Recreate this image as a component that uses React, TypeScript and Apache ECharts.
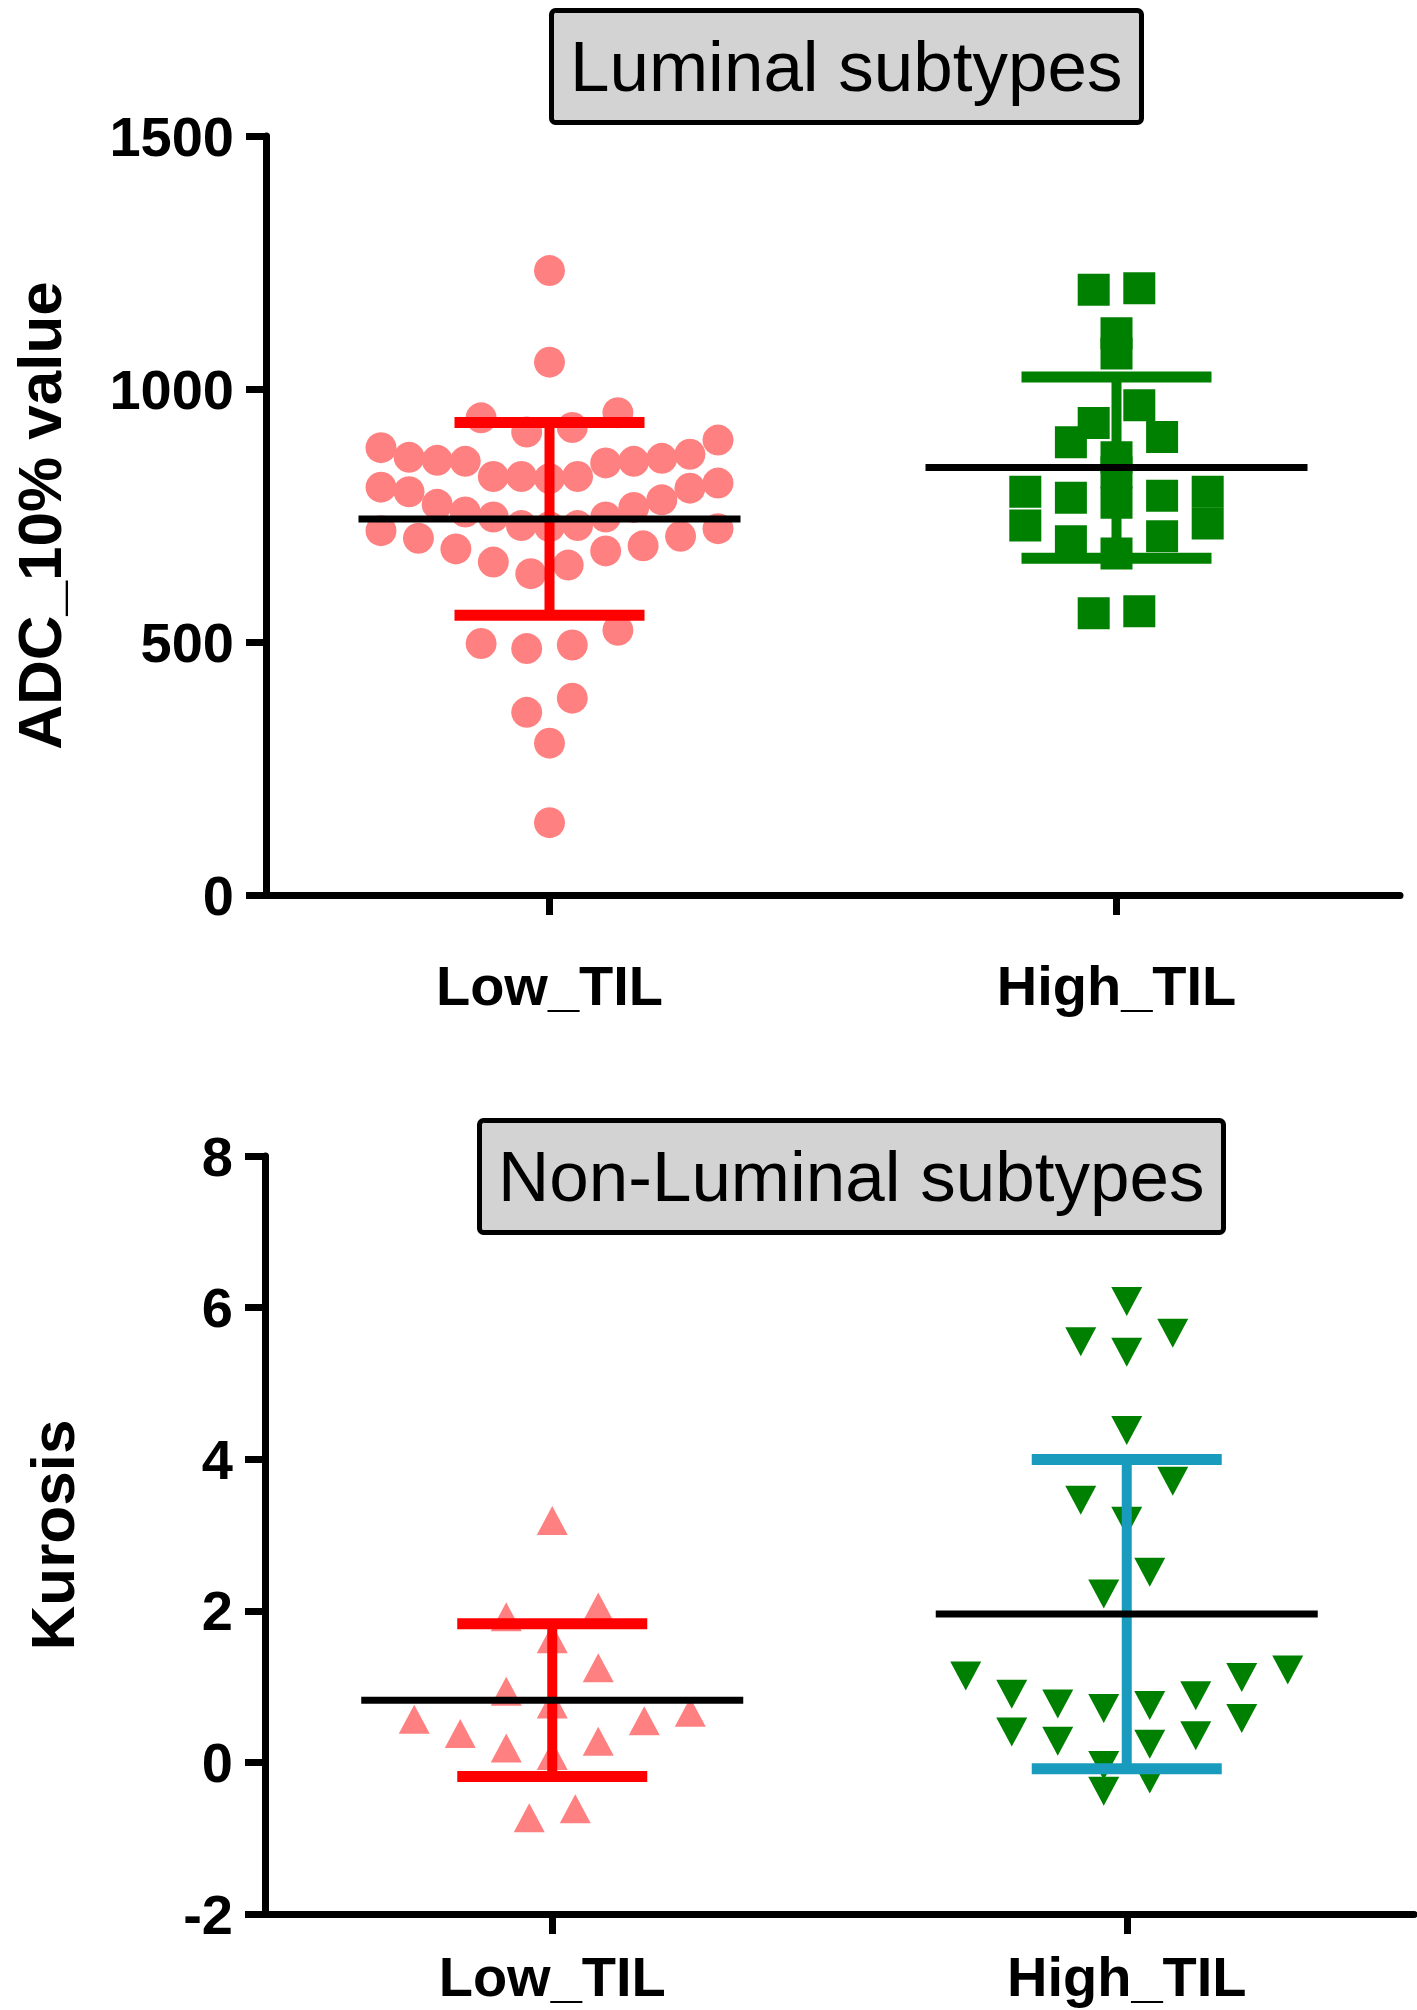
import React, { useEffect, useRef } from "react";
import * as echarts from "echarts";

// ---------- data ----------
const categories = ["Low_TIL", "High_TIL"];

// Luminal subtypes : ADC_10% value
const luminalLow = [
  1234, 1053,
  943, 915, 924, 953,
  884, 865, 857, 857, 827, 827, 823, 827, 854, 859, 863, 871, 899,
  814, 804, 781, 766, 747, 730, 728, 730, 747, 757, 772, 797, 806,
  724, 709, 690, 680, 652, 635, 658, 684, 705, 720,
  497, 487, 494, 523,
  361, 389, 300, 143,
];
const luminalHigh = [
  1196, 1199, 1110, 1070, 968, 933, 895, 905, 865, 835,
  797, 789, 775, 785, 797, 730, 699, 675, 709, 734, 557, 561,
];

// Non-Luminal subtypes : Kurosis
const nonLuminalLow = [
  3.19, 1.92, 2.05, 1.63, 1.25, 0.94, 0.77, 0.57, 0.38, 0.55, 0.66,
  0.19, 0.28, 0.09, -0.73, -0.61,
];
const nonLuminalHigh = [
  6.08, 5.66, 5.41, 5.55, 4.38, 3.71, 3.46, 3.18, 2.51, 2.22,
  1.22, 1.12, 1.14, 0.77, 0.71, 0.88, 0.9, 0.75,
  0.4, 0.58, 0.28, 0.24, 0.35, -0.04, -0.38, -0.22,
];

const luminalTicks = { min: 0, max: 1500, interval: 500 };
const nonLuminalTicks = { min: -2, max: 8, interval: 2 };

// ---------- helpers ----------
const FONT = "'Liberation Sans', Arial, Helvetica, sans-serif";
const PINK = "#FF8080";
const RED = "#FF0000";
const GREEN = "#008000";
const TEAL = "#199BBE";

function mean(a: number[]) {
  return a.reduce((s, v) => s + v, 0) / a.length;
}
function sd(a: number[]) {
  const m = mean(a);
  return Math.sqrt(a.reduce((s, v) => s + (v - m) * (v - m), 0) / (a.length - 1));
}

// Row-binned "scatter dot plot" layout (like GraphPad): points in a value bin
// spread symmetrically, lowest value in the middle.
function swarm(
  values: number[],
  binSize: number,
  binBase: number,
  stepPx: number,
  maxWidthPx: number,
  pxPerUnit: number
): number[] {
  const offsets = new Array(values.length).fill(0);
  const bins = new Map<number, number[]>();
  values.forEach((v, i) => {
    const k = Math.floor((v - binBase) / binSize);
    if (!bins.has(k)) bins.set(k, []);
    bins.get(k)!.push(i);
  });
  bins.forEach((idx) => {
    idx.sort((a, b) => values[a] - values[b]);
    const n = idx.length;
    const step = n > 1 ? Math.min(stepPx, maxWidthPx / (n - 1)) : 0;
    const slots: number[] = [];
    if (n % 2 === 1) {
      slots.push(0);
      for (let k = 1; slots.length < n; k++) {
        slots.push(-k);
        if (slots.length < n) slots.push(k);
      }
    } else {
      for (let k = 0.5; slots.length < n; k++) {
        slots.push(-k);
        if (slots.length < n) slots.push(k);
      }
    }
    idx.forEach((ii, j) => {
      offsets[ii] = (slots[j] * step) / pxPerUnit;
    });
  });
  return offsets;
}

function points(values: number[], center: number, offs: number[]) {
  return values.map((v, i) => [center + offs[i], v]);
}

const TOP_W = 1144;
const BOT_W = 1149;

export default function App() {
  const ref = useRef<HTMLDivElement>(null);

  useEffect(() => {
    document.body.style.margin = "0";
    if (!ref.current) return;
    const chart = echarts.init(ref.current, undefined, { renderer: "svg" });

    const pxTop = TOP_W / 4;
    const pxBot = BOT_W / 4;
    const lumLowPts = points(luminalLow, 1, swarm(luminalLow, 93, 74, 46, 340, pxTop));
    const lumHighPts = points(luminalHigh, 3, swarm(luminalHigh, 62, 550, 46, 340, pxTop));
    const nlLowPts = points(nonLuminalLow, 1, swarm(nonLuminalLow, 0.76, -0.075, 46, 340, pxBot));
    const nlHighPts = points(nonLuminalHigh, 3, swarm(nonLuminalHigh, 0.76, -0.075, 46, 340, pxBot));

    const summary = (groups: number[][], colors: string[], xi: number, yi: number) => ({
      type: "custom",
      xAxisIndex: xi,
      yAxisIndex: yi,
      z: 5,
      silent: true,
      clip: false,
      data: groups.map((g, i) => [i === 0 ? 1 : 3, mean(g), sd(g)]),
      renderItem: (params: any, api: any) => {
        const x = api.value(0);
        const m = api.value(1);
        const s = api.value(2);
        const c = api.coord([x, m]);
        const t = api.coord([x, m + s]);
        const b = api.coord([x, m - s]);
        const col = colors[params.dataIndex];
        const capHalf = 95;
        const meanHalf = 191;
        return {
          type: "group",
          children: [
            { type: "line", shape: { x1: c[0], y1: t[1], x2: c[0], y2: b[1] }, style: { stroke: col, lineWidth: 10 } },
            { type: "line", shape: { x1: c[0] - capHalf, y1: t[1], x2: c[0] + capHalf, y2: t[1] }, style: { stroke: col, lineWidth: 11 } },
            { type: "line", shape: { x1: c[0] - capHalf, y1: b[1], x2: c[0] + capHalf, y2: b[1] }, style: { stroke: col, lineWidth: 11 } },
            { type: "line", shape: { x1: c[0] - meanHalf, y1: c[1], x2: c[0] + meanHalf, y2: c[1] }, style: { stroke: "#000", lineWidth: 7 } },
          ],
        };
      },
    });

    const axisLineStyle = { color: "#000", width: 7 };
    const catAxis = (gi: number, margin: number) => ({
      gridIndex: gi,
      type: "category",
      data: categories,
      boundaryGap: true,
      axisLine: { show: true, onZero: false, lineStyle: axisLineStyle },
      axisTick: { show: true, alignWithLabel: true, length: 20, lineStyle: axisLineStyle },
      axisLabel: { margin, fontSize: 56, fontWeight: "bold", color: "#000", fontFamily: FONT },
      splitLine: { show: false },
    });
    const valX = (gi: number) => ({ gridIndex: gi, type: "value", min: 0, max: 4, show: false });
    const valY = (gi: number, ticks: any, name: string, nameGap: number) => ({
      gridIndex: gi,
      type: "value",
      min: ticks.min,
      max: ticks.max,
      interval: ticks.interval,
      axisLine: { show: true, onZero: false, lineStyle: axisLineStyle },
      axisTick: { show: true, length: 20, lineStyle: axisLineStyle },
      axisLabel: {
        margin: 32,
        fontSize: 56,
        fontWeight: "bold",
        color: "#000",
        fontFamily: FONT,
        formatter: (v: number) => String(v),
      },
      splitLine: { show: false },
      name,
      nameLocation: "middle",
      nameRotate: 90,
      nameGap,
      nameTextStyle: { fontSize: 62, fontWeight: "bold", color: "#000", fontFamily: FONT },
    });

    const titleBox = (text: string, left: number, top: number) => ({
      text,
      left,
      top,
      backgroundColor: "#D3D3D3",
      borderColor: "#000",
      borderWidth: 5,
      borderRadius: 4,
      padding: [21, 19],
      textStyle: { fontSize: 71, fontWeight: "normal", color: "#000", fontFamily: FONT },
    });

    const scatter = (data: number[][], symbol: string, size: any, color: string, xi: number, yi: number, rotate = 0) => ({
      type: "scatter",
      xAxisIndex: xi,
      yAxisIndex: yi,
      data,
      symbol,
      symbolSize: size,
      symbolRotate: rotate,
      silent: true,
      z: 2,
      itemStyle: { color, opacity: 1 },
    });

    chart.setOption({
      animation: false,
      backgroundColor: "#ffffff",
      title: [
        titleBox("Luminal subtypes", 551, 10),
        titleBox("Non-Luminal subtypes", 479, 1120),
      ],
      grid: [
        { left: 256, top: 136, width: TOP_W, height: 759 },
        { left: 265, top: 1156, width: BOT_W, height: 758 },
      ],
      xAxis: [catAxis(0, 62), valX(0), catAxis(1, 34), valX(1)],
      yAxis: [
        valY(0, luminalTicks, "ADC_10% value", 196),
        valY(1, nonLuminalTicks, "Kurosis", 182),
      ],
      series: [
        scatter(lumLowPts, "circle", 31, PINK, 1, 0),
        scatter(lumHighPts, "rect", 32, GREEN, 1, 0),
        summary([luminalLow, luminalHigh], [RED, GREEN], 1, 0),
        scatter(nlLowPts, "triangle", [31, 29], PINK, 3, 1),
        scatter(nlHighPts, "triangle", [31, 29], GREEN, 3, 1, 180),
        summary([nonLuminalLow, nonLuminalHigh], [RED, TEAL], 3, 1),
      ],
    });

    return () => chart.dispose();
  }, []);

  return <div ref={ref} style={{ width: 1417, height: 2010 }} />;
}
